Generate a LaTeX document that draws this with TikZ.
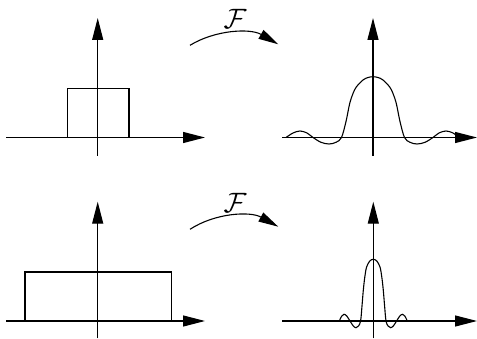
\documentclass[tikz,border=0pt]{standalone}
\usepackage{graphicx}
\usetikzlibrary{arrows.meta}
\newcommand{\bigF}{\scalebox{2.8}{$\mathcal{F}$}}
\begin{document}
\begin{tikzpicture}[x=1pt,y=-1pt,
  axis/.style={line width=1.2pt, -{Triangle[length=22pt,width=11pt]}},
  boxline/.style={line width=1.1pt},
  curveline/.style={line width=1.1pt},
  ftarrow/.style={line width=1.1pt, -{Triangle[length=20pt,width=10pt]}},
  flabel/.style={inner sep=0pt, anchor=base}]
\useasboundingbox (0,0) rectangle (477,339);

% ---------- top left ----------
\coordinate (tlxs) at (6,137.5);   \coordinate (tlxe) at (205,137.5);
\coordinate (tlys) at (97.7,156);  \coordinate (tlye) at (97.7,18);
\draw[axis] (tlxs) -- (tlxe);
\draw[axis] (tlys) -- (tlye);
\draw[boxline] (67.7,137.5) -- (67.7,88.7) -- (129,88.7) -- (129,137.5);

% ---------- top transform arrow ----------
\node[flabel] (f1) at (235,28.6) {\bigF};
\coordinate (a1s) at (190,45.3); \coordinate (a1e) at (278.3,44.3);
\draw[ftarrow] (a1s) .. controls (215,30) and (250,28) .. (a1e);

% ---------- top right ----------
\coordinate (trxs) at (282,137.5);  \coordinate (trxe) at (477,137.5);
\coordinate (trys) at (373,156);    \coordinate (trye) at (373,18);
\draw[axis] (trxs) -- (trxe);
\draw[axis] (trys) -- (trye);
\begin{scope}[shift={(373,137.5)}]
\draw[curveline] plot[smooth, tension=0.55] coordinates {
 (-87,0) (-80,-4.5) (-73,-6.5) (-66,-4.5) (-60,0) (-52,4.8) (-44,6.5) (-37,4.8) (-31.5,0)
 (-27,-16) (-23.3,-34) (-20,-44) (-16.7,-50.5) (-10,-57.5) (-5,-60) (0,-60.8)
 (5,-60) (10,-57.5) (16.7,-50.5) (20,-44) (23.3,-34) (27,-16)
 (31.5,0) (37,4.8) (44,6.5) (52,4.8) (60,0) (66,-4.5) (73,-6.5) (80,-4.5) (86,0)};
\end{scope}

% ---------- bottom left ----------
\coordinate (blxs) at (6,321);     \coordinate (blxe) at (205,321);
\coordinate (blys) at (97.7,338.3); \coordinate (blye) at (97.7,201.7);
\draw[axis] (blxs) -- (blxe);
\draw[axis] (blys) -- (blye);
\draw[boxline] (25,321) -- (25,272) -- (171.7,272) -- (171.7,321);

% ---------- bottom transform arrow ----------
\node[flabel] (f2) at (235,212.1) {\bigF};
\coordinate (a2s) at (190,229.3); \coordinate (a2e) at (278.3,226.7);
\draw[ftarrow] (a2s) .. controls (215,213) and (250,211) .. (a2e);

% ---------- bottom right ----------
\coordinate (brxs) at (282,321);    \coordinate (brxe) at (477,321);
\coordinate (brys) at (373.3,338.3); \coordinate (brye) at (373.3,201.7);
\draw[axis] (brxs) -- (brxe);
\draw[axis] (brys) -- (brye);
\begin{scope}[shift={(373.3,321)}]
\draw[curveline] plot[smooth, tension=0.55] coordinates {
 (-34,0) (-31.5,-5) (-29.3,-6.7) (-26.5,-5) (-23.3,0) (-20,5) (-17.3,6.7) (-14.8,5) (-12.7,0)
 (-11.3,-15) (-10,-30.7) (-8.5,-44) (-6.7,-54) (-3.5,-60) (0,-61.7)
 (3.5,-60) (6.7,-54) (8.5,-44) (10,-30.7) (11.3,-15)
 (12.7,0) (14.8,5) (17.3,6.7) (20,5) (23.3,0) (26.5,-5) (29.3,-6.7) (31.5,-5) (34,0)};
\end{scope}
\end{tikzpicture}
\end{document}
